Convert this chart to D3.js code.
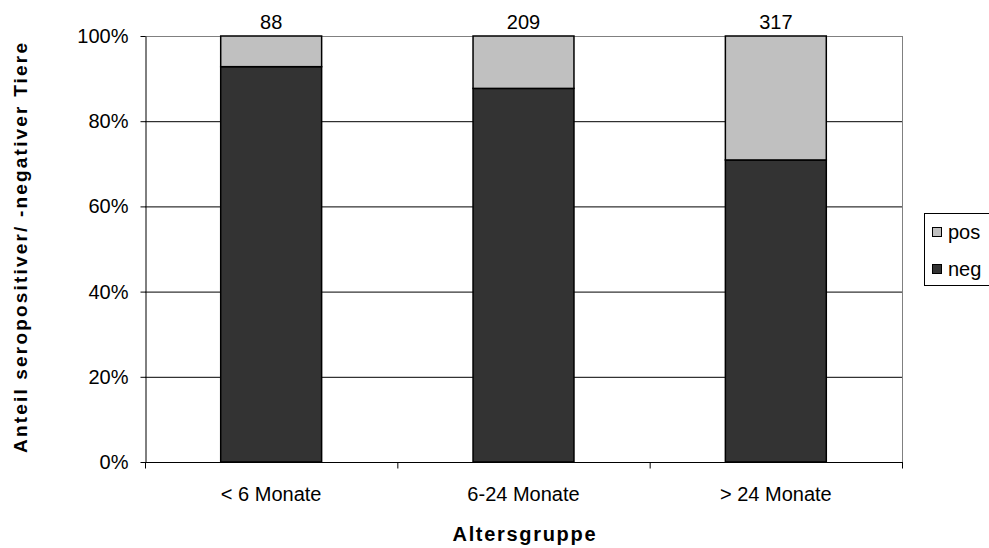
<!DOCTYPE html>
<html><head><meta charset="utf-8">
<script src="https://cdn.jsdelivr.net/npm/d3@7"></script>
<style>body{margin:0;background:#fff}svg{display:block;font-family:"Liberation Sans",Arial,sans-serif}</style>
</head><body><svg id="c" width="989" height="548"></svg>
<script>
const categories = ["< 6 Monate", "6-24 Monate", "> 24 Monate"];
const negValues = [92.8, 87.7, 70.9];
const posValues = [7.2, 12.3, 29.1];
const totals = [88, 209, 317];
const yTicks = [0, 20, 40, 60, 80, 100];
const seriesNames = ["pos", "neg"];
const colors = {pos: "#C0C0C0", neg: "#333333"};

const svg = d3.select("#c");
const L = 145, R = 902, T = 36, B = 462;
const FS = 20;
const x = d3.scaleBand().domain(categories).range([L, R]).paddingInner(0.6).paddingOuter(0.3);
const xb = d3.scaleBand().domain(categories).range([L, R]);
const y = d3.scaleLinear().domain([0, 100]).range([B, T]);

// gridlines
svg.append("g").selectAll("line").data(yTicks.filter(d => d > 0 && d < 100)).join("line")
  .attr("x1", L).attr("x2", R).attr("y1", d => y(d) + 0.5).attr("y2", d => y(d) + 0.5)
  .attr("stroke", "#000").attr("stroke-width", 1);
// plot border top/right grey
svg.append("line").attr("x1", L).attr("x2", R + 0.5).attr("y1", T + 0.5).attr("y2", T + 0.5).attr("stroke", "#808080");
svg.append("line").attr("x1", R + 0.5).attr("x2", R + 0.5).attr("y1", T).attr("y2", B).attr("stroke", "#808080");

const data = categories.map((c, i) => ({cat: c, neg: negValues[i], pos: posValues[i], n: totals[i]}));
const stack = d3.stack().keys(["neg", "pos"])(data);
svg.append("g").selectAll("g").data(stack).join("g")
  .attr("fill", d => colors[d.key])
  .selectAll("rect").data(d => d).join("rect")
  .attr("x", d => x(d.data.cat)).attr("width", x.bandwidth())
  .attr("y", d => y(d[1])).attr("height", d => y(d[0]) - y(d[1]))
  .attr("stroke", "#000").attr("stroke-width", 1.5);

// y axis
const yAxis = d3.axisLeft(y).tickValues(yTicks).tickFormat(d => d + "%").tickSize(5).tickSizeOuter(0);
const ga = svg.append("g").attr("transform", `translate(${L + 0.5},0)`).call(yAxis);
ga.select(".domain").attr("stroke", "#000");
ga.selectAll("text").attr("font-size", FS).attr("fill", "#000").attr("font-family", "Liberation Sans, Arial, sans-serif").attr("x", -17);

// x axis
const gx = svg.append("g").attr("transform", `translate(0,${B + 0.5})`);
gx.append("line").attr("x1", L).attr("x2", R + 1).attr("stroke", "#000");
gx.selectAll("line.t").data(categories.concat(["end"])).join("line").attr("class", "t")
  .attr("x1", (d, i) => (i < 3 ? xb(d) : R) + 0.5).attr("x2", (d, i) => (i < 3 ? xb(d) : R) + 0.5)
  .attr("y1", 0).attr("y2", 6).attr("stroke", "#000");
gx.selectAll("text").data(categories).join("text")
  .attr("x", d => xb(d) + xb.bandwidth() / 2).attr("y", 38)
  .attr("text-anchor", "middle").attr("font-size", FS).text(d => d);

// totals
svg.append("g").selectAll("text").data(data).join("text")
  .attr("x", d => x(d.cat) + x.bandwidth() / 2).attr("y", 29)
  .attr("text-anchor", "middle").attr("font-size", FS).text(d => d.n);

// axis titles
svg.append("text").attr("x", 524).attr("y", 541).attr("text-anchor", "middle")
  .attr("font-size", FS).attr("font-weight", "bold")
  .attr("textLength", 143).attr("lengthAdjust", "spacing").text("Altersgruppe");
svg.append("text").attr("transform", "translate(27,248) rotate(-90)").attr("text-anchor", "middle")
  .attr("font-size", FS - 1).attr("font-weight", "bold")
  .attr("textLength", 410).attr("lengthAdjust", "spacing")
  .text("Anteil seropositiver/ -negativer Tiere");

// legend
const lg = svg.append("g");
lg.append("rect").attr("x", 924.5).attr("y", 213.5).attr("width", 80).attr("height", 72)
  .attr("fill", "#fff").attr("stroke", "#000");
seriesNames.forEach((s, i) => {
  const cy = 232 + i * 37;
  lg.append("rect").attr("x", 932.5).attr("y", cy - 4.5).attr("width", 9).attr("height", 9)
    .attr("fill", colors[s]).attr("stroke", "#000");
  lg.append("text").attr("x", 948).attr("y", cy + 7).attr("font-size", FS).text(s);
});
</script></body></html>
